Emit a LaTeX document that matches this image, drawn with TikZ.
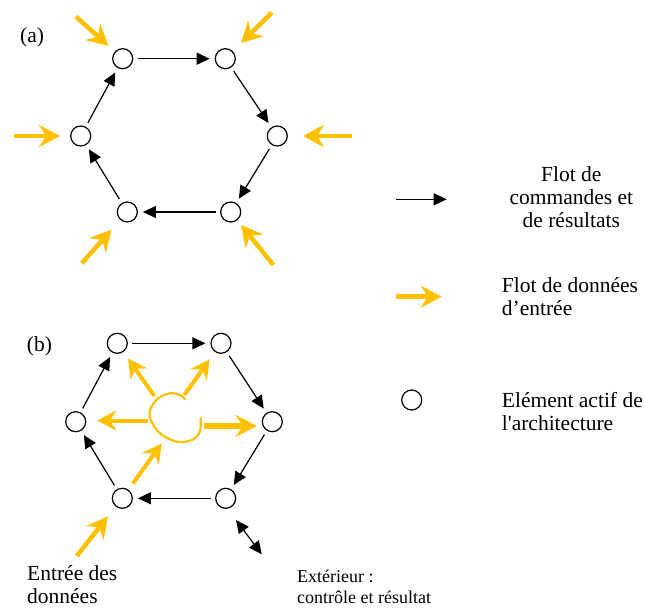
\documentclass[tikz,border=0pt]{standalone}
\usepackage{fontspec}
\setmainfont{Liberation Serif}
\newfontfamily\straightrm{Liberation Serif}[Ligatures=TeXOff]
\usetikzlibrary{arrows.meta}
\definecolor{ygold}{HTML}{FFC000}
\tikzset{
  elem/.style={circle, draw, line width=1.2pt, minimum size=20pt, inner sep=0pt},
  cmdtip/.tip={Triangle[length=13pt,width=12pt]},
  cmd/.style={-cmdtip, line width=1.2pt, shorten >=5pt, shorten <=4.5pt},
  bicmd/.style={cmdtip-cmdtip, line width=1.2pt},
  datatip/.tip={Stealth[length=21pt,width=22pt,inset=7pt]},
  smalltip/.tip={Stealth[length=19pt,width=20pt,inset=6.5pt]},
  data/.style={draw=ygold, line width=4.5pt, -datatip},
  bigtxt/.style={font=\fontsize{21.5}{23}\selectfont, inner sep=0pt},
  smalltxt/.style={font=\fontsize{18}{20.5}\selectfont, inner sep=0pt}
}
\begin{document}
\begin{tikzpicture}[x=1pt,y=-1pt]
\useasboundingbox (0,0) rectangle (645,609);

% ---------- (a) ring of active elements, external inputs ----------
\node[bigtxt, anchor=base west] (la) at (20,43) {(a)};
\node[elem] (a1) at (122.7,58.7) {};
\node[elem] (a2) at (225.3,58.7) {};
\node[elem] (a3) at (277.3,136) {};
\node[elem] (a4) at (230.7,212) {};
\node[elem] (a5) at (127.3,212) {};
\node[elem] (a6) at (80.7,136) {};
\draw[cmd] (a1) -- (a2);
\draw[cmd] (a2) -- (a3);
\draw[cmd] (a3) -- (a4);
\draw[cmd] (a4) -- (a5);
\draw[cmd] (a5) -- (a6);
\draw[cmd] (a6) -- (a1);

\coordinate (ia1) at (76,16.7);
\coordinate (ia2) at (271.7,12.7);
\coordinate (ia3) at (352,136);
\coordinate (ia4) at (273.3,265);
\coordinate (ia5) at (81.7,263.3);
\coordinate (ia6) at (14,136);
\draw[data, shorten >=8.5pt] (ia1) -- (a1);
\draw[data, shorten >=11.5pt] (ia2) -- (a2);
\draw[data, shorten >=15pt] (ia3) -- (a3);
\draw[data, shorten >=6pt] (ia4) -- (a4);
\draw[data, shorten >=13pt] (ia5) -- (a5);
\draw[data, shorten >=10pt] (ia6) -- (a6);

% ---------- (b) ring fed by a shared input store ----------
\node[bigtxt, anchor=base west] (lb) at (26.7,351.7) {(b)};
\node[elem] (b1) at (117.3,343.3) {};
\node[elem] (b2) at (221,343.3) {};
\node[elem] (b3) at (272.3,421.7) {};
\node[elem] (b4) at (225.7,498.3) {};
\node[elem] (b5) at (122.3,498.3) {};
\node[elem] (b6) at (75.7,421.7) {};
\draw[cmd] (b1) -- (b2);
\draw[cmd] (b2) -- (b3);
\draw[cmd] (b3) -- (b4);
\draw[cmd] (b4) -- (b5);
\draw[cmd] (b5) -- (b6);
\draw[cmd] (b6) -- (b1);

% shared store
\draw[ygold, line width=2.2pt, line cap=round]
  plot[smooth, tension=0.6] coordinates {(185,399.5) (181,395.5) (170,393.3) (158.3,398.3) (150.5,409) (150.7,420)
    (160,433.3) (176.7,441.7) (191.7,440) (199.8,431.7) (200.7,418.3)};

\coordinate (sb1) at (154.3,396);
\coordinate (sb2) at (184.3,395);
\coordinate (sb3) at (204,426);
\coordinate (sb6) at (148.3,420.5);
\coordinate (store) at (161.7,443.3);
\coordinate (ib5) at (76.7,556);
\draw[data, line width=4pt, shorten >=8pt, -smalltip] (sb1) -- (b1);
\draw[data, line width=4pt, shorten >=9pt, -smalltip] (sb2) -- (b2);
\draw[data, line width=5.2pt, shorten >=5pt] (sb3) -- (sb3 -| b3.west);
\draw[data, line width=4pt, shorten >=11pt, -smalltip] (sb6) -- (sb6 -| b6.east);
\draw[data, line width=4pt, shorten <=7.5pt, -smalltip] (b5) -- (store);
\draw[data, shorten >=12.5pt] (ib5) -- (b5);

% link to the outside
\coordinate (ext1) at (236,520);
\coordinate (ext2) at (261.7,554.3);
\draw[bicmd] (ext1) -- (ext2);

\node[bigtxt, anchor=base west, align=left] (tin) at (27,603.5) {Entrée des\\données};
\node[smalltxt, anchor=base west, align=left] (text) at (297,603) {Extérieur :\\contrôle et résultat};

% ---------- legend ----------
\coordinate (lc1) at (396,199.3);
\coordinate (lc2) at (446.7,199.3);
\draw[cmd, shorten >=0pt, shorten <=0pt] (lc1) -- (lc2);
\node[bigtxt, anchor=base, align=center] (tcmd) at (571.3,227.3) {Flot de\\commandes et\\de résultats};

\coordinate (ld1) at (396,296.7);
\coordinate (ld2) at (441.7,296.7);
\draw[data] (ld1) -- (ld2);
\node[bigtxt, anchor=base west, align=left] (tdata) at (501.7,315.7) {Flot de données\\d’entrée};

\node[elem] (lelem) at (411.7,400) {};
\node[bigtxt, anchor=base west, align=left] (telem) at (501.7,430) {Elément actif de\\{\straightrm l'architecture}};
\end{tikzpicture}
\end{document}
